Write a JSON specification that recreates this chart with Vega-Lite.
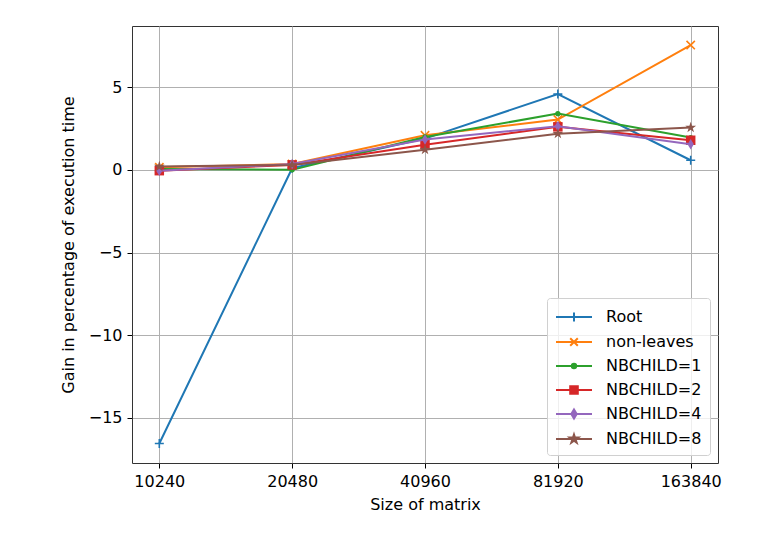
{
  "$schema": "https://vega.github.io/schema/vega-lite/v6.json",
  "width": 586,
  "height": 437,
  "autosize": {"type": "none"},
  "padding": {"left": 132, "top": 26, "right": 49, "bottom": 76},
  "background": "white",
  "data": {
    "values": [
      {"series": "Root", "size": 10240, "gain": -16.55},
      {"series": "Root", "size": 20480, "gain": 0.1},
      {"series": "Root", "size": 40960, "gain": 1.89},
      {"series": "Root", "size": 81920, "gain": 4.58},
      {"series": "Root", "size": 163840, "gain": 0.58},
      {"series": "non-leaves", "size": 10240, "gain": 0.15},
      {"series": "non-leaves", "size": 20480, "gain": 0.35},
      {"series": "non-leaves", "size": 40960, "gain": 2.09},
      {"series": "non-leaves", "size": 81920, "gain": 3.04},
      {"series": "non-leaves", "size": 163840, "gain": 7.55},
      {"series": "NBCHILD=1", "size": 10240, "gain": 0.05},
      {"series": "NBCHILD=1", "size": 20480, "gain": 0.0},
      {"series": "NBCHILD=1", "size": 40960, "gain": 1.99},
      {"series": "NBCHILD=1", "size": 81920, "gain": 3.4},
      {"series": "NBCHILD=1", "size": 163840, "gain": 1.95},
      {"series": "NBCHILD=2", "size": 10240, "gain": -0.05},
      {"series": "NBCHILD=2", "size": 20480, "gain": 0.3},
      {"series": "NBCHILD=2", "size": 40960, "gain": 1.52},
      {"series": "NBCHILD=2", "size": 81920, "gain": 2.6},
      {"series": "NBCHILD=2", "size": 163840, "gain": 1.79},
      {"series": "NBCHILD=4", "size": 10240, "gain": -0.05},
      {"series": "NBCHILD=4", "size": 20480, "gain": 0.35},
      {"series": "NBCHILD=4", "size": 40960, "gain": 1.83},
      {"series": "NBCHILD=4", "size": 81920, "gain": 2.64},
      {"series": "NBCHILD=4", "size": 163840, "gain": 1.55},
      {"series": "NBCHILD=8", "size": 10240, "gain": 0.2},
      {"series": "NBCHILD=8", "size": 20480, "gain": 0.3},
      {"series": "NBCHILD=8", "size": 40960, "gain": 1.22},
      {"series": "NBCHILD=8", "size": 81920, "gain": 2.19},
      {"series": "NBCHILD=8", "size": 163840, "gain": 2.56}
    ]
  },
  "encoding": {
    "x": {
      "field": "size",
      "type": "quantitative",
      "scale": {"type": "log", "base": 2, "domain": [8880, 188925], "nice": false},
      "axis": {"values": [10240, 20480, 40960, 81920, 163840], "format": "d", "title": "Size of matrix"}
    },
    "y": {
      "field": "gain",
      "type": "quantitative",
      "scale": {"domain": [-17.73, 8.7], "nice": false, "zero": false},
      "axis": {"values": [-15, -10, -5, 0, 5], "title": "Gain in percentage of execution time", "labelExpr": "replace(datum.label, '-', '−')"}
    },
    "color": {
      "field": "series",
      "type": "nominal",
      "scale": {
        "domain": ["Root", "non-leaves", "NBCHILD=1", "NBCHILD=2", "NBCHILD=4", "NBCHILD=8"],
        "range": ["#1f77b4", "#ff7f0e", "#2ca02c", "#d62728", "#9467bd", "#8c564b"]
      },
      "legend": {
        "title": null,
        "orient": "bottom-right",
        "offset": 8,
        "symbolSize": 400,
        "labelOffset": 29,
        "rowPadding": 5,
        "padding": 8,
        "strokeColor": "#d0d0d0",
        "fillColor": "rgba(255,255,255,0.8)",
        "cornerRadius": 3,
        "labelFontSize": 16,
        "labelColor": "#000",
        "symbolStrokeWidth": 2,
        "encode": {
          "symbols": {
            "update": {
              "shape": {"signal": "datum.value === 'Root' ? 'M-1,0L2.6,0M0.8,-0.45L0.8,0.45' : datum.value === 'non-leaves' ? 'M-1,0L2.6,0M0.42,-0.38L1.18,0.38M0.42,0.38L1.18,-0.38' : datum.value === 'NBCHILD=1' ? 'M-1,0L2.6,0M1.02,0A0.22,0.22 0 1,1 0.58,0A0.22,0.22 0 1,1 1.02,0Z' : datum.value === 'NBCHILD=2' ? 'M-1,0L2.6,0M0.42,-0.38L1.18,-0.38L1.18,0.38L0.42,0.38Z' : datum.value === 'NBCHILD=4' ? 'M-1,0L2.6,0M0.8,-0.45L1.07,0L0.8,0.45L0.53,0Z' : 'M-1,0L2.6,0M0.8,-0.45L0.901,-0.139L1.228,-0.139L0.963,0.053L1.065,0.364L0.8,0.172L0.535,0.364L0.637,0.053L0.372,-0.139L0.699,-0.139Z'"},
              "fill": {"signal": "scale('color', datum.value)"},
              "stroke": {"signal": "scale('color', datum.value)"},
              "opacity": {"value": 1}
            }
          }
        }
      }
    }
  },
  "layer": [
    {
      "transform": [{"filter": "datum.series === 'Root'"}],
      "layer": [
        {"mark": {"type": "line", "strokeWidth": 2}},
        {"mark": {"type": "point", "shape": "M-1,0L1,0M0,-1L0,1", "size": 81, "filled": false, "strokeWidth": 1.6, "opacity": 1}}
      ]
    },
    {
      "transform": [{"filter": "datum.series === 'non-leaves'"}],
      "layer": [
        {"mark": {"type": "line", "strokeWidth": 2}},
        {"mark": {"type": "point", "shape": "M-1,-1L1,1M-1,1L1,-1", "size": 70, "filled": false, "strokeWidth": 1.6, "opacity": 1}}
      ]
    },
    {
      "transform": [{"filter": "datum.series === 'NBCHILD=1'"}],
      "layer": [
        {"mark": {"type": "line", "strokeWidth": 2}},
        {"mark": {"type": "point", "shape": "circle", "size": 28, "filled": true, "opacity": 1}}
      ]
    },
    {
      "transform": [{"filter": "datum.series === 'NBCHILD=2'"}],
      "layer": [
        {"mark": {"type": "line", "strokeWidth": 2}},
        {"mark": {"type": "point", "shape": "square", "size": 90, "filled": true, "opacity": 1}}
      ]
    },
    {
      "transform": [{"filter": "datum.series === 'NBCHILD=4'"}],
      "layer": [
        {"mark": {"type": "line", "strokeWidth": 2}},
        {"mark": {"type": "point", "shape": "M0,-1L0.6,0L0,1L-0.6,0Z", "size": 110, "filled": true, "opacity": 1}}
      ]
    },
    {
      "transform": [{"filter": "datum.series === 'NBCHILD=8'"}],
      "layer": [
        {"mark": {"type": "line", "strokeWidth": 2}},
        {"mark": {"type": "point", "shape": "M0,-1L0.2245,-0.309L0.951,-0.309L0.363,0.118L0.588,0.809L0,0.382L-0.588,0.809L-0.363,0.118L-0.951,-0.309L-0.2245,-0.309Z", "size": 130, "filled": true, "opacity": 1}}
      ]
    }
  ],
  "config": {
    "font": "DejaVu Sans",
    "view": {"stroke": "#333", "strokeWidth": 1},
    "axis": {
      "labelFontSize": 16,
      "titleFontSize": 16,
      "titleFontWeight": "normal",
      "labelColor": "#000",
      "titleColor": "#000",
      "tickColor": "#000",
      "tickSize": 5,
      "tickWidth": 1,
      "gridColor": "#b0b0b0",
      "gridWidth": 1,
      "domain": false,
      "labelPadding": 5
    },
    "axisX": {"titlePadding": 7, "labelAngle": 0},
    "axisY": {"titlePadding": 12, "labelPadding": 5}
  }
}
